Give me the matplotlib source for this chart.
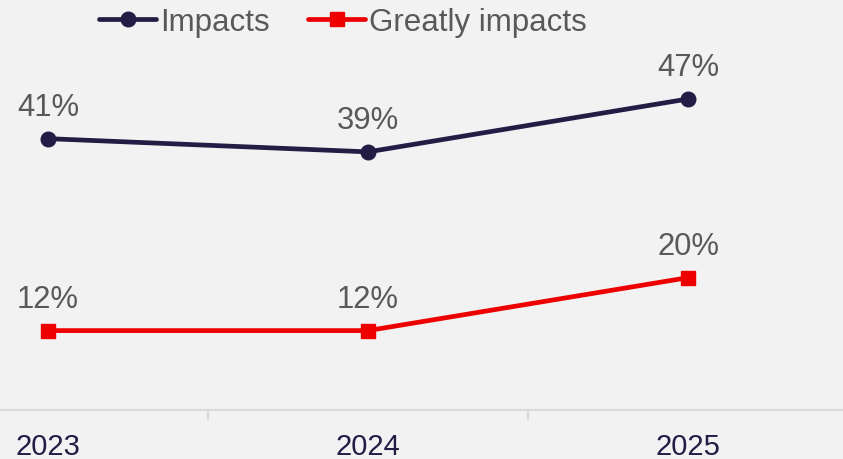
import matplotlib
matplotlib.use("Agg")
import matplotlib.pyplot as plt

years = ["2023", "2024", "2025"]
impacts = [41, 39, 47]
greatly = [12, 12, 20]

BG = "#f2f2f2"
NAVY = "#231d45"
RED = "#ee0000"
GRAY = "#595959"

plt.rcParams["font.family"] = ["Liberation Sans", "DejaVu Sans"]

fig = plt.figure(figsize=(8.43, 4.60), dpi=100, facecolor=BG)
ax = fig.add_axes([0, 49 / 460, 1, 411 / 460], facecolor=BG)

x = list(range(len(years)))
ax.plot(x, impacts, color=NAVY, lw=3.4, marker="o", ms=10.5, label="Impacts",
        solid_capstyle="round")
ax.plot(x, greatly, color=RED, lw=3.4, marker="s", ms=10, label="Greatly impacts",
        solid_capstyle="round")

for series in (impacts, greatly):
    for xi, v in zip(x, series):
        ax.annotate(f"{v}%", (xi, v), xytext=(0, 17.3), textcoords="offset points",
                    ha="center", va="baseline", fontsize=22.3, color=GRAY)

ax.set_xlim(-0.15, 2.484)
ax.set_ylim(0, 62.1)

for s in ["top", "right", "left"]:
    ax.spines[s].set_visible(False)
ax.spines["bottom"].set_color("#d9d9d9")
ax.spines["bottom"].set_linewidth(1.5)

ax.set_yticks([])
ax.set_xticks(x)
ax.set_xticklabels(years, fontsize=21, color=NAVY)
ax.tick_params(axis="x", which="major", length=0, pad=16)
ax.set_xticks([0.5, 1.5], minor=True)
ax.tick_params(axis="x", which="minor", length=7, width=1.5, color="#d9d9d9")

leg = ax.legend(loc="center", bbox_to_anchor=(343 / 843, 1 - 23 / 411), ncol=2,
                frameon=False, fontsize=22.5, handlelength=1.8, handletextpad=0.13,
                columnspacing=1.25, borderaxespad=0, borderpad=0)
for t in leg.get_texts():
    t.set_color(GRAY)

fig.savefig("out.png", dpi=100, facecolor=BG)
